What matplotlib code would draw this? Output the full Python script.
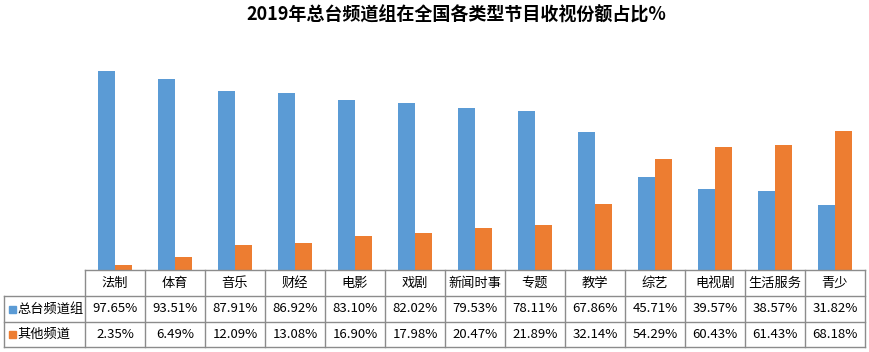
import matplotlib
matplotlib.use("Agg")
import matplotlib.pyplot as plt
import numpy as np
from matplotlib.lines import Line2D
from matplotlib.patches import Rectangle

plt.rcParams['font.family'] = ['Noto Sans CJK SC', 'DejaVu Sans']

title = "2019年总台频道组在全国各类型节目收视份额占比%"
categories = ["法制", "体育", "音乐", "财经", "电影", "戏剧", "新闻时事", "专题",
              "教学", "综艺", "电视剧", "生活服务", "青少"]
series_names = ["总台频道组", "其他频道"]
cctv = [97.65, 93.51, 87.91, 86.92, 83.10, 82.02, 79.53, 78.11, 67.86, 45.71, 39.57, 38.57, 31.82]
other = [2.35, 6.49, 12.09, 13.08, 16.90, 17.98, 20.47, 21.89, 32.14, 54.29, 60.43, 61.43, 68.18]
colors = ["#5B9BD5", "#ED7D31"]

W, H = 869, 352
fig = plt.figure(figsize=(W / 100, H / 100), dpi=100)

def fx(px):
    return px / W

def fy(py):
    return 1 - py / H

left_px, right_px = 85, 865
top_px, base_px = 66, 270
ax = fig.add_axes([fx(left_px), fy(base_px), fx(right_px - left_px), (base_px - top_px) / H])
n = len(categories)
x = np.arange(n)
bw = 0.283
ax.bar(x - bw / 2, cctv, width=bw, color=colors[0])
ax.bar(x + bw / 2, other, width=bw, color=colors[1])
ax.set_xlim(-0.5, n - 0.5)
ax.set_ylim(0, 100)
ax.axis("off")

fig.text(fx(456), fy(15), title, ha="center", va="center", fontsize=13, fontweight="bold")

# table
grid_color = "#8c8c8c"
col_w = (right_px - left_px) / n
row_y = [270, 296, 322, 347]
label_left = 4
lw = 1.0

def hline(x0, x1, y):
    fig.add_artist(Line2D([fx(x0), fx(x1)], [fy(y), fy(y)], color=grid_color, lw=lw))

def vline(xp, y0, y1):
    fig.add_artist(Line2D([fx(xp), fx(xp)], [fy(y0), fy(y1)], color=grid_color, lw=lw))

hline(left_px, right_px, row_y[0])
for y in row_y[1:]:
    hline(label_left, right_px, y)
vline(label_left, row_y[1], row_y[3])
for i in range(n + 1):
    vline(left_px + i * col_w, row_y[0], row_y[3])

fs = 9.5
for i, c in enumerate(categories):
    cx = left_px + (i + 0.5) * col_w
    fig.text(fx(cx), fy((row_y[0] + row_y[1]) / 2), c, ha="center", va="center", fontsize=fs)
    fig.text(fx(cx), fy((row_y[1] + row_y[2]) / 2), f"{cctv[i]:.2f}%", ha="center", va="center", fontsize=fs)
    fig.text(fx(cx), fy((row_y[2] + row_y[3]) / 2), f"{other[i]:.2f}%", ha="center", va="center", fontsize=fs)

for r, name in enumerate(series_names):
    cy = (row_y[r + 1] + row_y[r + 2]) / 2
    fig.add_artist(Rectangle((fx(9), fy(cy + 3.5)), fx(7), 7 / H, color=colors[r], transform=fig.transFigure))
    fig.text(fx(17), fy(cy), name, ha="left", va="center", fontsize=fs)

fig.savefig("out.png", dpi=100)
